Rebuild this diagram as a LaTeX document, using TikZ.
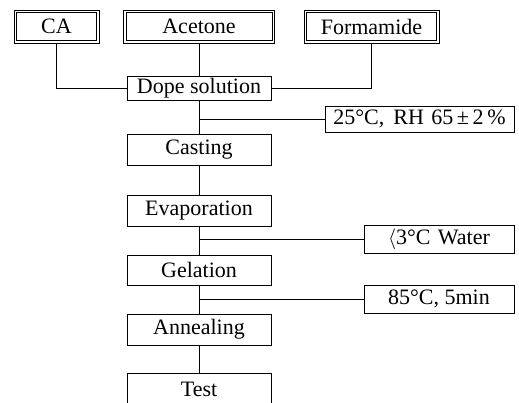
\documentclass[tikz,border=0pt]{standalone}
\usepackage{fontspec}
\setmainfont{Liberation Serif}
\begin{document}
\begin{tikzpicture}[x=1pt,y=-1pt,
  line width=0.8pt,
  box/.style={draw, inner sep=0pt, font=\fontsize{22}{24}\selectfont},
  ]
\useasboundingbox (0,0) rectangle (519,402);
% top inputs
\node[box, minimum width=85pt, minimum height=33pt] (ca) at (56.5,26.5) {CA};
\node[box, minimum width=151pt, minimum height=33pt] (ace) at (199,26.5) {Acetone};
\node[box, minimum width=135pt, minimum height=33pt] (form) at (371.5,26.5) {Formamide};
\foreach \n in {ca,ace,form}
  \draw ([shift={(3pt,-3pt)}]\n.north west) rectangle ([shift={(-3pt,3pt)}]\n.south east);
% main column
\node[box, minimum width=144pt, minimum height=24pt] (dope) at (199,88.5) {Dope solution};
\node[box, minimum width=144pt, minimum height=31pt] (cast) at (199,149.5) {Casting};
\node[box, minimum width=144pt, minimum height=31pt] (evap) at (199,210.5) {Evaporation};
\node[box, minimum width=144pt, minimum height=30pt] (gel) at (199,270) {Gelation};
\node[box, minimum width=144pt, minimum height=31pt] (ann) at (199,329.5) {Annealing};
\node[box, minimum width=144pt, minimum height=32pt, anchor=north] (test) at (199,373) {Test};
% conditions
\node[box, minimum width=189pt, minimum height=26pt] (c25) at (419.5,119) {25°C,\, RH\,\,65\,±\,2\,\%};
\node[box, minimum width=150pt, minimum height=28pt] (water) at (439,239) {$\langle$3°C\,\,Water};
\node[box, minimum width=150pt, minimum height=28pt] (c85) at (439,299) {85°C, 5min};
% junctions
\coordinate (j1) at (cast.north |- c25.west);
\coordinate (j2) at (evap.south |- water.west);
\coordinate (j3) at (gel.south |- c85.west);
% connectors
\draw (ca.south) |- (dope.west);
\draw (form.south) |- (dope.east);
\draw (ace.south) -- (dope.north);
\draw (dope.south) -- (cast.north);
\draw (j1) -- (c25.west);
\draw (cast.south) -- (evap.north);
\draw (evap.south) -- (gel.north);
\draw (j2) -- (water.west);
\draw (gel.south) -- (ann.north);
\draw (j3) -- (c85.west);
\draw (ann.south) -- (test.north);
\end{tikzpicture}
\end{document}
